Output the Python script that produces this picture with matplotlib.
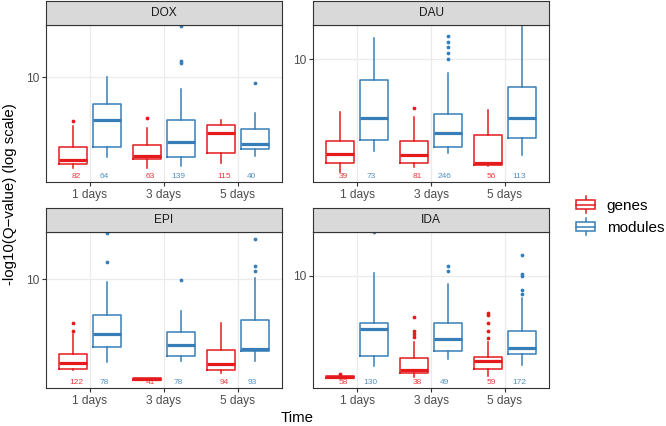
"""Boxplots of -log10(Q-value) for genes vs modules, one panel per drug."""

import matplotlib

matplotlib.use("Agg")
import matplotlib.pyplot as plt
import matplotlib.transforms as mtransforms
from matplotlib.legend_handler import HandlerBase
from matplotlib.lines import Line2D
from matplotlib.patches import Patch, Rectangle

plt.rcParams["font.family"] = ["Liberation Sans", "DejaVu Sans"]

# DATA

drugs = ["DOX", "DAU", "EPI", "IDA"]
days = ["1 days", "3 days", "5 days"]
groups = ["genes", "modules"]

# one row per drug; boxes ordered 1d genes, 1d modules, 3d genes, 3d modules, 5d genes, 5d modules
q1 = [
    [2.68, 3.47, 2.88, 2.96, 3.15, 3.38],
    [2.05, 2.93, 2.07, 2.62, 2.00, 3.03],
    [2.51, 3.52, 2.11, 3.08, 2.46, 3.33],
    [2.08, 2.93, 2.26, 3.16, 2.39, 3.02],
]
median = [
    [2.84, 5.19, 3.03, 3.76, 4.28, 3.63],
    [2.36, 4.09, 2.32, 3.24, 2.07, 4.09],
    [2.74, 4.30, 2.15, 3.61, 2.71, 3.41],
    [2.11, 4.43, 2.35, 3.80, 2.72, 3.30],
]
q3 = [
    [3.45, 6.71, 3.58, 5.25, 4.81, 4.57],
    [2.90, 7.28, 2.90, 4.37, 3.16, 6.58],
    [3.16, 5.78, 2.20, 4.43, 3.36, 5.33],
    [2.14, 4.84, 2.83, 4.84, 2.90, 4.32],
]
whisker_low = [
    [2.52, 2.97, 2.52, 2.58, 2.70, 3.02],
    [1.80, 2.48, 1.93, 2.41, 1.97, 2.32],
    [2.47, 2.79, 2.11, 2.84, 2.35, 2.84],
    [2.08, 2.52, 2.13, 2.81, 2.15, 2.55],
]
whisker_high = [
    [4.73, 10.1, 4.62, 8.41, 5.19, 5.82],
    [4.45, 13.9, 4.15, 8.15, 4.64, 16.7],
    [4.30, 9.55, 2.20, 6.15, 5.07, 10.1],
    [2.14, 10.4, 3.65, 8.81, 3.65, 7.10],
]
outliers = [
    [[5.17], [], [5.38], [12.4, 12.8, 22.0], [], [9.22]],
    [[], [], [4.79], [10.0, 11.0, 12.0, 13.0, 14.3], [], []],
    [[4.50, 5.12], [13.0, 20.4], [], [9.85], [], [11.3, 12.2, 18.5]],
    [[2.21], [19.5], [3.93, 4.10, 4.26, 5.31], [10.7, 11.7],
     [3.85, 4.26, 4.84, 5.50, 5.69], [7.59, 8.07, 10.0, 10.3, 13.8]],
]
counts = [
    [82, 64, 63, 139, 115, 40],
    [39, 73, 81, 246, 56, 113],
    [122, 78, 41, 78, 94, 93],
    [58, 130, 38, 49, 59, 172],
]
# free y scales, one range per panel
y_limits = [(2.03, 22.2), (1.54, 16.9), (1.88, 20.6), (1.79, 19.6)]

colors = {"genes": "#E41A1C", "modules": "#377EB8"}


# LEGEND KEY THAT LOOKS LIKE A SMALL BOXPLOT

class HandlerBox(HandlerBase):
    def create_artists(self, legend, orig_handle, xdescent, ydescent, width, height, fontsize, trans):
        color = orig_handle.get_edgecolor()
        cx = -xdescent + width / 2
        box = Rectangle((-xdescent, -ydescent + height * 0.2), width, height * 0.6,
                        facecolor="white", edgecolor=color, linewidth=1.1, transform=trans)
        med = Line2D([-xdescent, -xdescent + width], [-ydescent + height / 2] * 2,
                     color=color, linewidth=1.1, transform=trans)
        whisk_lo = Line2D([cx, cx], [-ydescent, -ydescent + height * 0.2],
                          color=color, linewidth=1.1, transform=trans)
        whisk_hi = Line2D([cx, cx], [-ydescent + height * 0.8, -ydescent + height],
                          color=color, linewidth=1.1, transform=trans)
        return [whisk_lo, whisk_hi, box, med]


# FIGURE

W, H = 666, 426
fig = plt.figure(figsize=(W / 100, H / 100), dpi=100)

panel_left = [45.6, 312.6]
panel_width = 236.8
panel_top = [25, 232]
panel_height = [157, 156]
strip_height = 24

positions = [1, 2, 3]
dodge = 0.225

for k, drug in enumerate(drugs):
    r, c = divmod(k, 2)
    left = panel_left[c] / W
    bottom = 1 - (panel_top[r] + panel_height[r]) / H
    ax = fig.add_axes([left, bottom, panel_width / W, panel_height[r] / H])

    for g, group in enumerate(groups):
        col = colors[group]
        stats = []
        for d in range(len(days)):
            i = 2 * d + g
            stats.append({
                "med": median[k][i], "q1": q1[k][i], "q3": q3[k][i],
                "whislo": whisker_low[k][i], "whishi": whisker_high[k][i],
                "fliers": outliers[k][i],
            })
        pos = [p + (dodge if g else -dodge) for p in positions]
        ax.bxp(stats, positions=pos, widths=0.375, showcaps=False,
               boxprops=dict(color=col, linewidth=1.1),
               whiskerprops=dict(color=col, linewidth=1.1),
               medianprops=dict(color=col, linewidth=2.3, solid_capstyle="butt"),
               flierprops=dict(marker="o", markersize=1.7, markerfacecolor=col,
                               markeredgecolor=col, linestyle="none"),
               manage_ticks=False, zorder=3)

        # sample sizes under each box
        tr = mtransforms.blended_transform_factory(ax.transData, ax.transAxes)
        for d, p in enumerate(positions):
            x = p + (0.1875 if g else -0.1875)
            ax.text(x, 0.036, str(counts[k][2 * d + g]), transform=tr, ha="center",
                    va="center", fontsize=6.0, color=col, alpha=0.85)

    ax.set_yscale("log")
    ax.set_ylim(*y_limits[k])
    ax.set_xlim(0.4, 3.6)
    ax.set_yticks([10])
    ax.set_yticklabels(["10"])
    ax.yaxis.set_minor_locator(matplotlib.ticker.NullLocator())
    ax.set_xticks(positions)
    ax.set_xticklabels(days)
    ax.grid(True, color="#EBEBEB", linewidth=0.9)
    ax.set_axisbelow(True)
    for s in ax.spines.values():
        s.set_color("#333333")
        s.set_linewidth(0.8)
    ax.tick_params(axis="both", length=3, width=0.8, color="#333333",
                   labelsize=8.6, labelcolor="#4D4D4D", pad=1.8)

    # facet strip
    sax = fig.add_axes([left, 1 - panel_top[r] / H, panel_width / W, strip_height / H])
    sax.set_facecolor("#D9D9D9")
    sax.set_xticks([])
    sax.set_yticks([])
    for s in sax.spines.values():
        s.set_color("#333333")
        s.set_linewidth(0.8)
    sax.text(0.5, 0.5, drug, ha="center", va="center", fontsize=8.6, color="#1A1A1A",
             transform=sax.transAxes)

fig.text(10 / W, 1 - 194.5 / H, "-log10(Q\u2212value) (log scale)", rotation=90,
         ha="center", va="center", fontsize=10.8)
fig.text(297.5 / W, 1 - 418 / H, "Time", ha="center", va="center", fontsize=10.8)

handles = [Patch(facecolor="white", edgecolor=colors[g]) for g in groups]
fig.legend(handles, groups, handler_map={Patch: HandlerBox()}, loc="center left",
           bbox_to_anchor=(576 / W, 1 - 215.5 / H), frameon=False, fontsize=11,
           handlelength=1.25, handleheight=1.3, labelspacing=0.35, handletextpad=0.75,
           borderpad=0, borderaxespad=0)

fig.savefig("out.png", dpi=100)
